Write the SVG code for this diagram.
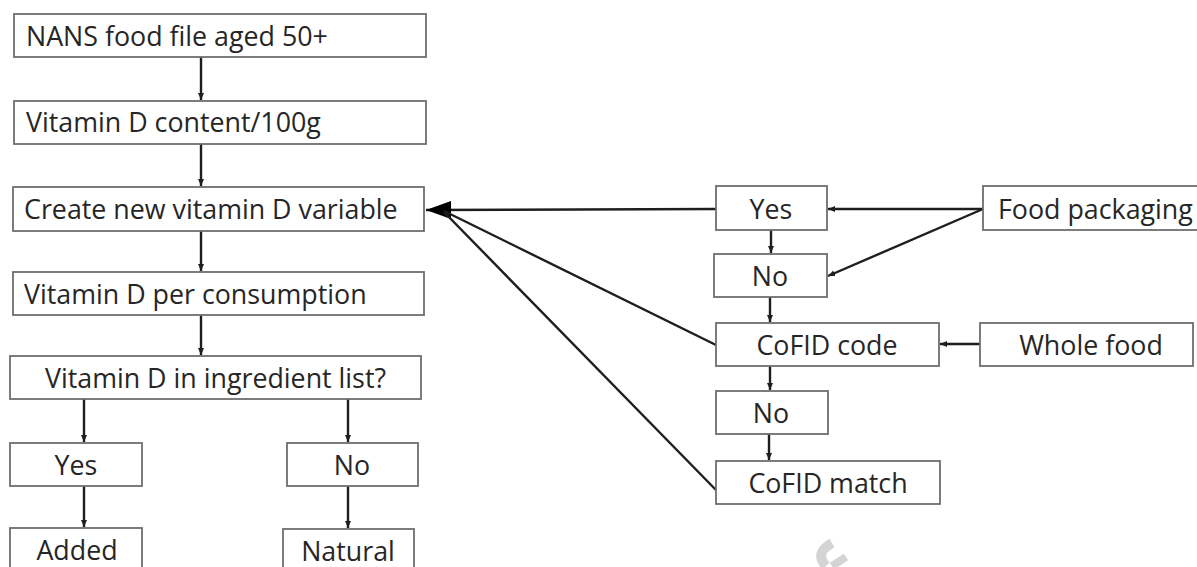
<svg xmlns="http://www.w3.org/2000/svg" width="1197" height="567" viewBox="0 0 1197 567">
<style>
.box{fill:#fff;stroke:#6e6e6e;stroke-width:1.8}
.t{font-family:"Open Sans","Liberation Sans",Arial,sans-serif;font-size:26.8px;fill:#262626}
.c{text-anchor:middle}
.ln{stroke:#1e1e1e;stroke-width:2.4;fill:none}
</style>
<defs>
<marker id="sm" markerWidth="8" markerHeight="8" refX="7" refY="4" orient="auto" markerUnits="userSpaceOnUse">
<path d="M0,1 L7,4 L0,7 Z" fill="#1e1e1e"/>
</marker>
<marker id="big" markerWidth="26" markerHeight="20" refX="25" refY="10" orient="auto" markerUnits="userSpaceOnUse">
<path d="M0,1 L25,10 L0,19 Z" fill="#000"/>
</marker>
</defs>
<rect width="1197" height="567" fill="#fff"/>
<g id="connectors">
<line class="ln" x1="201" y1="57" x2="201" y2="100" marker-end="url(#sm)"/>
<line class="ln" x1="201" y1="144" x2="201" y2="186" marker-end="url(#sm)"/>
<line class="ln" x1="201" y1="231" x2="201" y2="271" marker-end="url(#sm)"/>
<line class="ln" x1="201" y1="315" x2="201" y2="355" marker-end="url(#sm)"/>
<line class="ln" x1="84" y1="399" x2="84" y2="442" marker-end="url(#sm)"/>
<line class="ln" x1="348" y1="399" x2="348" y2="442" marker-end="url(#sm)"/>
<line class="ln" x1="84" y1="486" x2="84" y2="527" marker-end="url(#sm)"/>
<line class="ln" x1="348" y1="486" x2="348" y2="528" marker-end="url(#sm)"/>
<line class="ln" x1="716" y1="209" x2="426" y2="210" marker-end="url(#big)"/>
<line class="ln" x1="716" y1="345" x2="444" y2="211"/>
<line class="ln" x1="716" y1="490" x2="444" y2="212"/>
<line class="ln" x1="771" y1="230" x2="771" y2="253" marker-end="url(#sm)"/>
<line class="ln" x1="770" y1="297" x2="770" y2="322" marker-end="url(#sm)"/>
<line class="ln" x1="770" y1="366" x2="770" y2="390" marker-end="url(#sm)"/>
<line class="ln" x1="769" y1="434" x2="769" y2="460" marker-end="url(#sm)"/>
<line class="ln" x1="983" y1="209" x2="828" y2="209" marker-end="url(#sm)"/>
<line class="ln" x1="983" y1="209" x2="828" y2="276" marker-end="url(#sm)"/>
<line class="ln" x1="980" y1="344" x2="940" y2="344" marker-end="url(#sm)"/>
</g>
<g id="n1"><rect class="box" x="14" y="14" width="412" height="43"/><text class="t" x="26" y="46">NANS food file aged 50+</text></g>
<g id="n2"><rect class="box" x="14" y="101" width="412" height="43"/><text class="t" x="26" y="132">Vitamin D content/100g</text></g>
<g id="n3"><rect class="box" x="13" y="187" width="411" height="44"/><text class="t" x="24" y="219">Create new vitamin D variable</text></g>
<g id="n4"><rect class="box" x="13" y="272" width="411" height="43"/><text class="t" x="24" y="304">Vitamin D per consumption</text></g>
<g id="n5"><rect class="box" x="10" y="356" width="411" height="43"/><text class="t c" x="215.5" y="388">Vitamin D in ingredient list?</text></g>
<g id="n6"><rect class="box" x="10" y="443" width="132" height="43"/><text class="t c" x="76" y="475">Yes</text></g>
<g id="n7"><rect class="box" x="287" y="443" width="131" height="43"/><text class="t c" x="352" y="475">No</text></g>
<g id="n8"><rect class="box" x="10" y="528" width="132" height="50"/><text class="t c" x="77" y="560">Added</text></g>
<g id="n9"><rect class="box" x="283" y="529" width="131" height="50"/><text class="t c" x="348" y="561">Natural</text></g>
<g id="n10"><rect class="box" x="716" y="186" width="111" height="44"/><text class="t c" x="771" y="219">Yes</text></g>
<g id="n11"><rect class="box" x="714" y="254" width="113" height="43"/><text class="t c" x="770" y="286">No</text></g>
<g id="n12"><rect class="box" x="716" y="323" width="223" height="43"/><text class="t c" x="827" y="355">CoFID code</text></g>
<g id="n13"><rect class="box" x="716" y="391" width="112" height="43"/><text class="t c" x="771" y="423">No</text></g>
<g id="n14"><rect class="box" x="716" y="461" width="224" height="43"/><text class="t c" x="828" y="493">CoFID match</text></g>
<g id="n15"><rect class="box" x="983" y="186" width="230" height="44"/><text class="t" x="998" y="219">Food packaging</text></g>
<g id="n16"><rect class="box" x="980" y="323" width="213" height="43"/><text class="t c" x="1091" y="355">Whole food</text></g>
<path d="M832,543 Q814,553 826,566" stroke="#d4d4d4" stroke-width="10" fill="none"/>
<path d="M832,566 L846,557" stroke="#d4d4d4" stroke-width="8" fill="none"/>
</svg>
